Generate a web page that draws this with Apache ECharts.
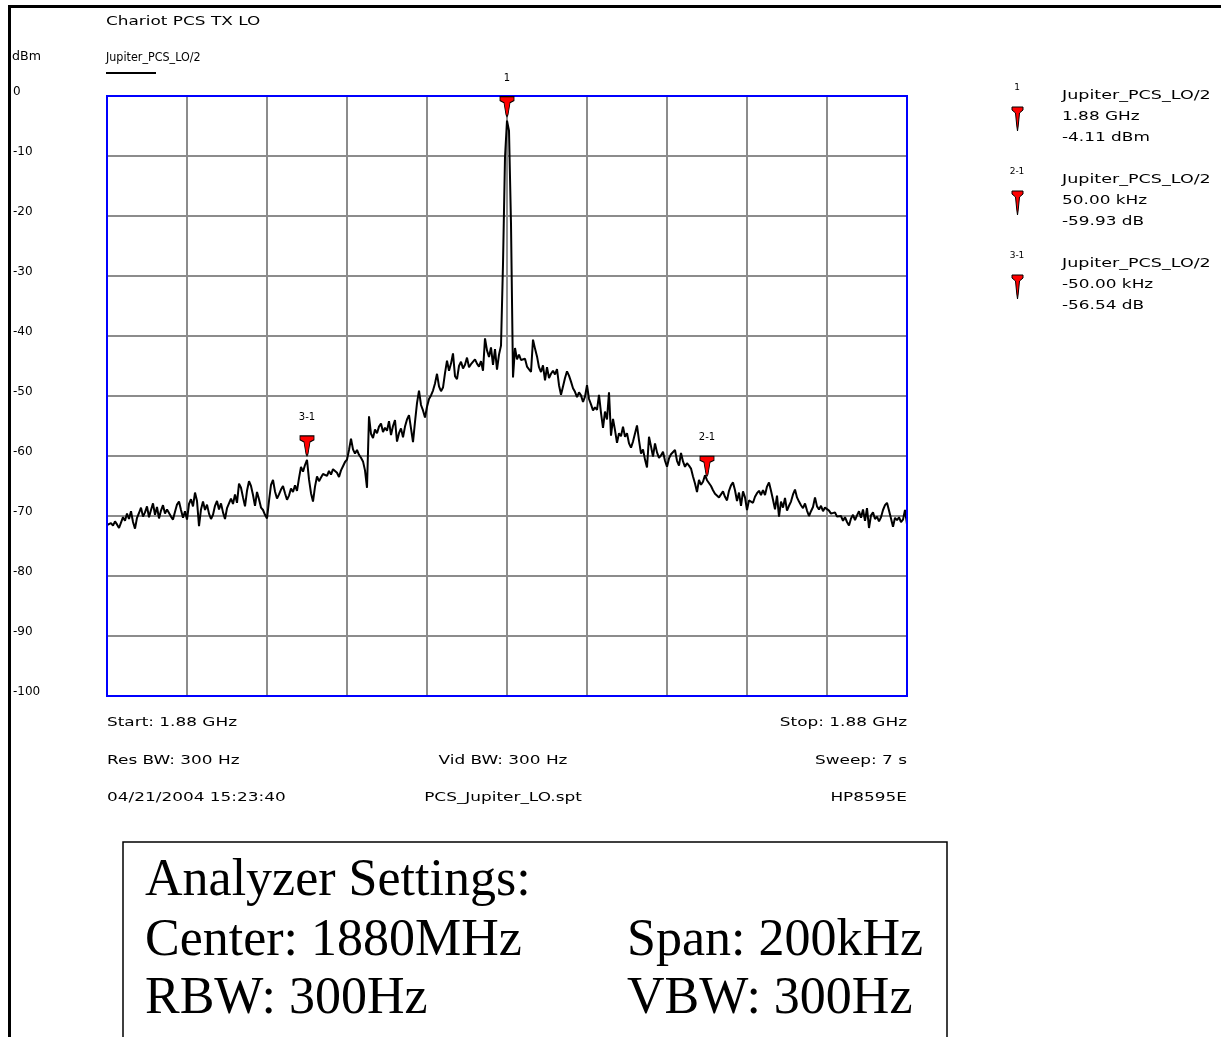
<!DOCTYPE html>
<html>
<head>
<meta charset="utf-8">
<script src="https://cdn.jsdelivr.net/npm/echarts@6/dist/echarts.min.js"></script>
<style>
  html, body { margin: 0; padding: 0; background: #ffffff; }
  #chart { width: 1221px; height: 1037px; }
</style>
</head>
<body>
<div id="chart"></div>
<script>
// Spectrum analyzer sweep: 401 points across a 200 kHz span centred on 1880 MHz
const traceName = 'Jupiter_PCS_LO/2';
const spanStartKHz = -100;
const spanStopKHz = 100;
const stepKHz = 0.5;
const freqTickKHz = 20;
const yTicksDbm = [0, -10, -20, -30, -40, -50, -60, -70, -80, -90, -100];

// Trace amplitude in dBm, one value per sweep point (left to right)
const traceDbm = [
  -71.5, -71.8, -71.2, -71.6, -70.9, -71.4, -72.0, -71.1, -70.2, -70.8, -69.6, -70.5, -69.2, -71.0, -72.1, -70.3, -69.5, -68.6, -70.1, -69.4,
  -68.4, -70.2, -69.0, -67.9, -69.8, -68.5, -70.4, -69.1, -68.2, -69.6, -68.9, -69.5, -70.1, -70.6, -69.3, -68.1, -67.6, -69.0, -70.3, -69.2,
  -70.6, -68.0, -67.2, -68.4, -66.1, -67.5, -71.7, -68.9, -67.6, -69.0, -68.1, -69.6, -70.5, -69.8, -68.3, -67.5, -68.9, -67.9, -69.4, -70.5,
  -68.7, -67.9, -67.1, -68.0, -66.4, -67.8, -64.6, -65.3, -66.9, -68.4, -65.8, -64.2, -65.0, -66.5, -68.3, -66.0, -67.2, -68.6, -69.0, -69.8,
  -70.4, -67.5, -64.8, -64.0, -65.9, -67.1, -66.4, -65.6, -65.0, -66.2, -67.3, -66.6, -65.4, -66.0, -64.9, -65.8, -63.7, -61.8, -62.6, -61.5,
  -60.65, -63.9, -66.2, -67.6, -65.1, -63.4, -64.2, -63.6, -63.0, -62.7, -63.3, -62.5, -63.1, -62.2, -61.9, -62.8, -63.5, -62.4, -61.7, -61.0,
  -60.6, -59.0, -57.1, -58.9, -59.6, -59.0, -59.8, -60.3, -60.9, -62.4, -65.3, -53.4, -56.3, -57.0, -55.6, -56.2, -55.1, -54.6, -56.0, -55.3,
  -55.8, -54.2, -56.5, -55.0, -54.0, -57.6, -56.2, -55.4, -56.9, -55.1, -53.9, -53.2, -55.4, -57.7, -54.3, -51.2, -49.1, -51.5, -52.4, -53.6,
  -51.8, -50.5, -49.9, -49.1, -47.9, -46.3, -48.4, -49.2, -48.6, -46.2, -44.1, -45.8, -44.6, -42.9, -46.7, -47.2, -45.0, -44.3, -45.4, -44.8,
  -43.6, -45.2, -44.7, -44.5, -43.9, -44.6, -45.1, -44.2, -45.8, -40.4, -42.4, -43.5, -41.9, -44.8, -42.2, -45.6, -43.1, -41.6, -28.0, -10.2,
  -4.11,
  -5.8, -21.3, -46.9, -42.0, -43.9, -43.1, -44.0, -44.2, -43.8, -45.1, -45.4, -46.0, -40.6, -42.1, -43.4, -45.2, -46.0, -44.9, -47.4, -45.2,
  -47.0, -46.3, -45.8, -46.4, -45.5, -48.2, -49.8, -48.4, -47.0, -45.9, -46.6, -47.6, -48.7, -49.3, -50.2, -49.4, -49.9, -51.0, -50.1, -48.2,
  -50.5, -51.4, -52.4, -51.9, -52.3, -49.8, -52.8, -55.3, -52.6, -53.9, -49.4, -56.6, -53.8, -55.7, -57.8, -56.2, -56.7, -55.1, -56.8, -56.2,
  -57.9, -58.6, -57.6, -57.3, -54.9, -57.4, -59.6, -58.9, -60.6, -61.9, -56.8, -58.4, -60.1, -57.9, -59.4, -60.3, -59.9, -59.3, -60.8, -61.8,
  -60.4, -59.7, -59.4, -59.0, -60.8, -61.6, -59.5, -60.9, -61.8, -61.2, -61.6, -62.1, -63.4, -64.6, -66.0, -64.0, -64.8, -64.3, -63.2, -64.04,
  -63.9, -65.0, -65.7, -66.3, -66.6, -66.9, -66.7, -65.9, -66.8, -67.4, -65.8, -64.9, -64.4, -65.7, -67.5, -66.1, -68.3, -65.9, -66.9, -69.0,
  -67.4, -67.1, -67.8, -66.8, -66.2, -65.8, -66.5, -65.7, -66.5, -65.1, -64.4, -65.8, -67.3, -68.9, -66.6, -70.1, -67.6, -68.6, -67.0, -69.1,
  -68.3, -67.6, -66.4, -65.6, -66.9, -67.6, -68.2, -68.7, -67.9, -69.1, -70.0, -69.2, -68.5, -66.9, -68.4, -68.9, -68.3, -69.2, -68.6, -68.8,
  -69.1, -69.6, -69.9, -69.4, -70.1, -70.4, -70.0, -70.8, -70.2, -71.0, -71.6, -70.4, -69.8, -70.7, -69.9, -69.2, -70.3, -68.9, -70.8, -68.7,
  -72.0, -69.9, -69.4, -70.5, -70.1, -70.9, -70.2, -69.0, -68.2, -67.8, -69.1, -70.4, -71.8, -70.3, -70.7, -70.2, -71.0, -70.6, -69.0, -71.4
];

// Markers: 1 is absolute, 2-1 and 3-1 are deltas relative to marker 1
const markerNames = ['1', '2-1', '3-1'];
const markerOffsetKHz = [0, 50, -50];
const markerRefDbm = -4.11;
const markerDeltaDb = [0, -59.93, -56.54];
const markerFreqText = ['1.88 GHz', '50.00 kHz', '-50.00 kHz'];
const markerLevelText = ['-4.11 dBm', '-59.93 dB', '-56.54 dB'];

const headerTitle = 'Chariot PCS TX LO';
const yUnit = 'dBm';
const footerLeft = ['Start: 1.88 GHz', 'Res BW: 300 Hz', '04/21/2004 15:23:40'];
const footerMid = ['', 'Vid BW: 300 Hz', 'PCS_Jupiter_LO.spt'];
const footerRight = ['Stop: 1.88 GHz', 'Sweep: 7 s', 'HP8595E'];
const settingsLeft = ['Analyzer Settings:', 'Center: 1880MHz', 'RBW: 300Hz'];
const settingsRight = ['', 'Span: 200kHz', 'VBW: 300Hz'];

const uiFont = '"DejaVu Sans", "Liberation Sans", sans-serif';
const serifFont = '"Liberation Serif", "DejaVu Serif", serif';

// Red pin used for marker glyphs
const pinPath = 'M0,0 L14,0 L14,4 L10,6 L8,18 L7,20 L6,18 L4,6 L0,4 Z';
const pinSmallPoints = [[0, 0], [11, 0], [11, 3], [7.5, 6], [6.2, 19], [5.5, 24], [4.8, 19], [3.5, 6], [0, 3]];

const GRID = { left: 107, top: 96, width: 800, height: 600 };

const chart = echarts.init(document.getElementById('chart'), null, { renderer: 'canvas' });

const seriesData = traceDbm.map((v, i) => [spanStartKHz + i * stepKHz, v]);
const markerPoints = markerNames.map((n, i) => ({
  name: n,
  coord: [markerOffsetKHz[i], markerRefDbm + markerDeltaDb[i]]
}));

// text helper: the instrument font is wide, so glyphs are stretched horizontally
function txt(x, y, text, size, stretch, opts) {
  return {
    type: 'text', x: x, y: y, silent: true, z: 20,
    scaleX: stretch || 1,
    style: Object.assign({
      text: text, fill: '#000', font: size + 'px ' + uiFont,
      textAlign: 'left', textVerticalAlign: 'middle'
    }, opts || {})
  };
}

const graphics = [];
// page border (top and left)
graphics.push({ type: 'rect', silent: true, z: 20, shape: { x: 8, y: 5, width: 1213, height: 3 }, style: { fill: '#000' } });
graphics.push({ type: 'rect', silent: true, z: 20, shape: { x: 8, y: 5, width: 3, height: 1032 }, style: { fill: '#000' } });
// header
graphics.push(txt(106, 22, headerTitle, 13, 1.3));
graphics.push(txt(12, 57, yUnit, 12, 1.05));
graphics.push(txt(106, 58, traceName, 12, 0.93));
graphics.push({ type: 'line', silent: true, z: 20, shape: { x1: 106, y1: 73, x2: 156, y2: 73 }, style: { stroke: '#000', lineWidth: 2 } });
// marker readout panel
const panelTop = [96, 180, 264];
markerNames.forEach((n, i) => {
  const y0 = panelTop[i];
  graphics.push(txt(1017, y0 - 8, n, 9, 1, { textAlign: 'center' }));
  graphics.push({
    type: 'polygon', silent: true, z: 20, x: 1012, y: y0 + 11,
    shape: { points: pinSmallPoints },
    style: { fill: '#ff0000', stroke: '#000', lineWidth: 1 }
  });
  graphics.push(txt(1062, y0, traceName, 13, 1.35));
  graphics.push(txt(1062, y0 + 21, markerFreqText[i], 13, 1.3));
  graphics.push(txt(1062, y0 + 42, markerLevelText[i], 13, 1.3));
});
// footer rows
const footerY = [723, 761, 798];
footerY.forEach((y, i) => {
  graphics.push(txt(107, y, footerLeft[i], 13, 1.3));
  if (footerMid[i]) graphics.push(txt(503, y, footerMid[i], 13, 1.3, { textAlign: 'center' }));
  graphics.push(txt(907, y, footerRight[i], 13, 1.3, { textAlign: 'right' }));
});
// analyzer settings box
graphics.push({ type: 'rect', silent: true, z: 20, shape: { x: 123, y: 842, width: 824, height: 260 }, style: { fill: 'none', stroke: '#000', lineWidth: 1.5 } });
const settingsY = [881, 941, 999];
settingsY.forEach((y, i) => {
  graphics.push({
    type: 'text', x: 145, y: y, silent: true, z: 20,
    style: { text: settingsLeft[i], fill: '#000', font: '52px ' + serifFont, textAlign: 'left', textVerticalAlign: 'middle' }
  });
  if (settingsRight[i]) graphics.push({
    type: 'text', x: 627, y: y, silent: true, z: 20,
    style: { text: settingsRight[i], fill: '#000', font: '52px ' + serifFont, textAlign: 'left', textVerticalAlign: 'middle' }
  });
});

const option = {
  animation: false,
  backgroundColor: '#ffffff',
  grid: { left: GRID.left, top: GRID.top, width: GRID.width, height: GRID.height, containLabel: false },
  xAxis: {
    type: 'value', min: spanStartKHz, max: spanStopKHz, interval: freqTickKHz,
    axisLine: { show: false }, axisTick: { show: false }, axisLabel: { show: false },
    splitLine: { show: true, lineStyle: { color: '#8c8c8c', width: 2 } }
  },
  yAxis: {
    type: 'value', min: yTicksDbm[yTicksDbm.length - 1], max: yTicksDbm[0], interval: 10,
    axisLine: { show: false }, axisTick: { show: false },
    axisLabel: {
      show: true, align: 'left', margin: 94, color: '#000',
      fontFamily: uiFont, fontSize: 12, verticalAlign: 'bottom', lineHeight: 8,
      formatter: v => String(v)
    },
    splitLine: { show: true, lineStyle: { color: '#8c8c8c', width: 2 } }
  },
  series: [{
    name: traceName,
    type: 'line',
    data: seriesData,
    showSymbol: false,
    symbol: 'none',
    lineStyle: { color: '#000', width: 2 },
    z: 3,
    markPoint: {
      symbol: 'path://' + pinPath,
      symbolSize: [14, 20],
      symbolOffset: [0, -14],
      itemStyle: { color: '#ff0000', borderColor: '#000', borderWidth: 1 },
      label: {
        show: true, position: 'top', distance: 13, color: '#000',
        fontFamily: uiFont, fontSize: 10, formatter: p => p.name
      },
      data: markerPoints,
      z: 6
    }
  }],
  graphic: graphics
};
chart.setOption(option);

// blue plot frame drawn over the grid lines, taken from the axis extents
const tl = chart.convertToPixel({ gridIndex: 0 }, [spanStartKHz, yTicksDbm[0]]);
const br = chart.convertToPixel({ gridIndex: 0 }, [spanStopKHz, yTicksDbm[yTicksDbm.length - 1]]);
graphics.push({
  type: 'rect', silent: true, z: 4,
  shape: { x: tl[0], y: tl[1], width: br[0] - tl[0], height: br[1] - tl[1] },
  style: { fill: 'none', stroke: '#0000ff', lineWidth: 2 }
});
chart.setOption({ graphic: graphics });
</script>
</body>
</html>
